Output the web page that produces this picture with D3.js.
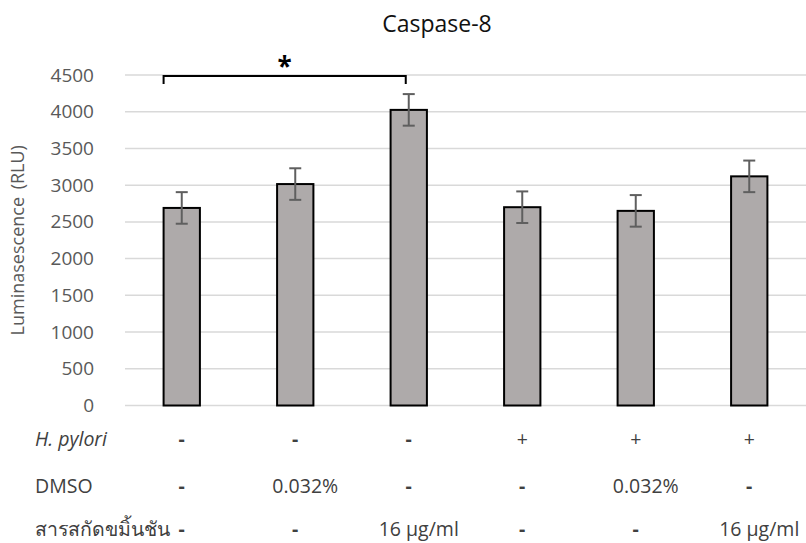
<!DOCTYPE html>
<html>
<head>
<meta charset="utf-8">
<script src="https://cdn.jsdelivr.net/npm/d3@7"></script>
<style>
  html, body { margin: 0; padding: 0; background: #fff; }
  svg { display: block; font-family: "Open Sans", "Noto Sans", sans-serif; }
</style>
</head>
<body>
<svg id="chart" width="806" height="543"></svg>
<script>
// Caspase-8 luminescence per treatment group
const groups = ["G1", "G2", "G3", "G4", "G5", "G6"];
const values = [2690, 3015, 4025, 2700, 2650, 3120];
const errors = [215, 215, 215, 215, 215, 215];

// treatment table shown under the bars
const rowNames = ["H. pylori", "DMSO", "สารสกัดขมิ้นชัน"];
const hPylori = ["-", "-", "-", "+", "+", "+"];
const dmso = ["-", "0.032%", "-", "-", "0.032%", "-"];
const extract = ["-", "-", "16 µg/ml", "-", "-", "16 µg/ml"];

const yTicks = [0, 500, 1000, 1500, 2000, 2500, 3000, 3500, 4000, 4500];

// significant pair: group 1 vs group 3
const sigPair = [0, 2];
const sigLabel = "*";

const svg = d3.select("#chart");

const x = d3.scaleBand()
  .domain(groups)
  .range([125, 806])
  .paddingInner(0.68)
  .paddingOuter(0.34);

const y = d3.scaleLinear()
  .domain([0, 4500])
  .range([405.5, 75]);

// title
svg.append("text")
  .attr("x", 437)
  .attr("y", 32)
  .attr("text-anchor", "middle")
  .attr("font-size", 23)
  .attr("fill", "#111")
  .text("Caspase-8");

// tick labels
const yAxis = d3.axisLeft(y)
  .tickValues(yTicks)
  .tickSize(0)
  .tickPadding(31)
  .tickFormat(d3.format("d"));

const gAxis = svg.append("g")
  .attr("transform", "translate(125,0)")
  .call(yAxis);
gAxis.select(".domain").remove();
gAxis.selectAll("text")
  .attr("font-size", 19)
  .attr("font-family", "'Open Sans', sans-serif")
  .attr("fill", "#595959");

// gridlines
svg.append("g")
  .selectAll("line")
  .data(yTicks)
  .join("line")
  .attr("x1", 125)
  .attr("x2", 806)
  .attr("y1", d => y(d))
  .attr("y2", d => y(d))
  .attr("stroke", "#d9d9d9")
  .attr("stroke-width", 1.5);

// axis title
svg.append("text")
  .attr("transform", `translate(24,${(y(0) + y(4500)) / 2}) rotate(-90)`)
  .attr("text-anchor", "middle")
  .attr("font-size", 18)
  .attr("fill", "#595959")
  .attr("word-spacing", 3)
  .text("Luminasescence (RLU)");

// bars
svg.append("g")
  .selectAll("rect")
  .data(groups)
  .join("rect")
  .attr("x", d => x(d))
  .attr("width", x.bandwidth())
  .attr("y", (d, i) => y(values[i]))
  .attr("height", (d, i) => y(0) - y(values[i]))
  .attr("fill", "#aeaaaa")
  .attr("stroke", "#000")
  .attr("stroke-width", 2);

// error bars
const cap = 6;
const gErr = svg.append("g")
  .attr("stroke", "#5f5f5f")
  .attr("stroke-width", 2);
groups.forEach((g, i) => {
  const cx = x(g) + x.bandwidth() / 2;
  const hi = y(values[i] + errors[i]);
  const lo = y(values[i] - errors[i]);
  gErr.append("line").attr("x1", cx).attr("x2", cx).attr("y1", hi).attr("y2", lo);
  gErr.append("line").attr("x1", cx - cap).attr("x2", cx + cap).attr("y1", hi).attr("y2", hi);
  gErr.append("line").attr("x1", cx - cap).attr("x2", cx + cap).attr("y1", lo).attr("y2", lo);
});

// significance bracket
const bx1 = x(groups[sigPair[0]]);
const bx2 = x(groups[sigPair[1]]) + x.bandwidth() / 2 - 3;
const by = y(4500) + 1;
svg.append("path")
  .attr("d", `M${bx1},${by + 8}V${by}H${bx2}V${by + 8}`)
  .attr("fill", "none")
  .attr("stroke", "#000")
  .attr("stroke-width", 2);
svg.append("text")
  .attr("x", (bx1 + bx2) / 2)
  .attr("y", by)
  .attr("text-anchor", "middle")
  .attr("font-size", 26)
  .attr("font-weight", "bold")
  .attr("fill", "#000")
  .text(sigLabel);

// treatment table
const rows = [hPylori, dmso, extract];
const rowY = [446, 493, 536];
rows.forEach((vals, r) => {
  svg.append("text")
    .attr("x", 35)
    .attr("y", rowY[r])
    .attr("font-size", 19.5)
    .attr("font-style", r === 0 ? "italic" : "normal")
    .attr("fill", "#404040")
    .text(rowNames[r]);
  svg.append("g")
    .selectAll("text")
    .data(vals)
    .join("text")
    .attr("x", (d, i) => x(groups[i]) + x.bandwidth() / 2 + (d.length > 1 ? 10 : 0))
    .attr("y", rowY[r])
    .attr("text-anchor", "middle")
    .attr("font-size", 19.5)
    .attr("font-weight", d => d === "-" ? "bold" : "normal")
    .attr("fill", "#404040")
    .text(d => d);
});
</script>
</body>
</html>
